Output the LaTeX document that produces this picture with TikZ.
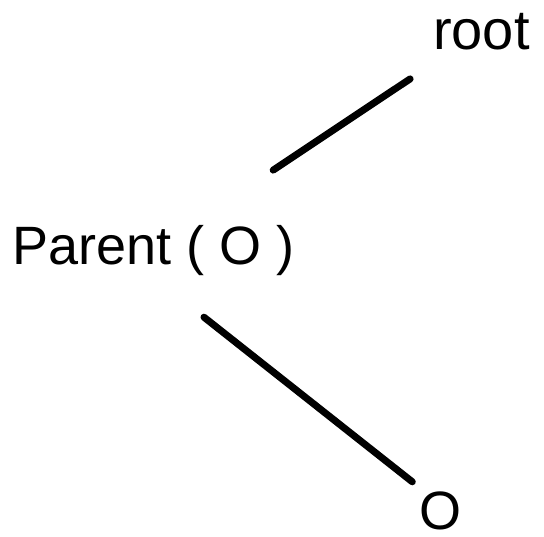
\documentclass[tikz,border=0pt]{standalone}
\usepackage{fontspec}
\setmainfont{Liberation Sans}

\begin{document}
\begin{tikzpicture}[x=1pt,y=1pt]

% Define styles
\tikzstyle{label}=[inner sep=0pt, anchor=base west, font=\fontsize{54}{60}\selectfont]
\tikzstyle{edge}=[line width=7pt, line cap=round]

\useasboundingbox (0,0) rectangle (544,-537);

% Nodes
\node[label, font=\fontsize{56}{62}\selectfont] (root) at (433,-49.3) {root};
\node[label] (parent) at (12.7,-265) {Parent ( O )};
\node[label] (child) at (419,-529) {O};

% Tree edges
\draw[edge] ([shift={(-22,94.9)}]parent.base east) -- ([shift={(-22.9,-29.6)}]root.base west);
\draw[edge] ([shift={(-91.2,-52.2)}]parent.base east) -- ([shift={(-6.7,47.2)}]child.base west);

\end{tikzpicture}
\end{document}
